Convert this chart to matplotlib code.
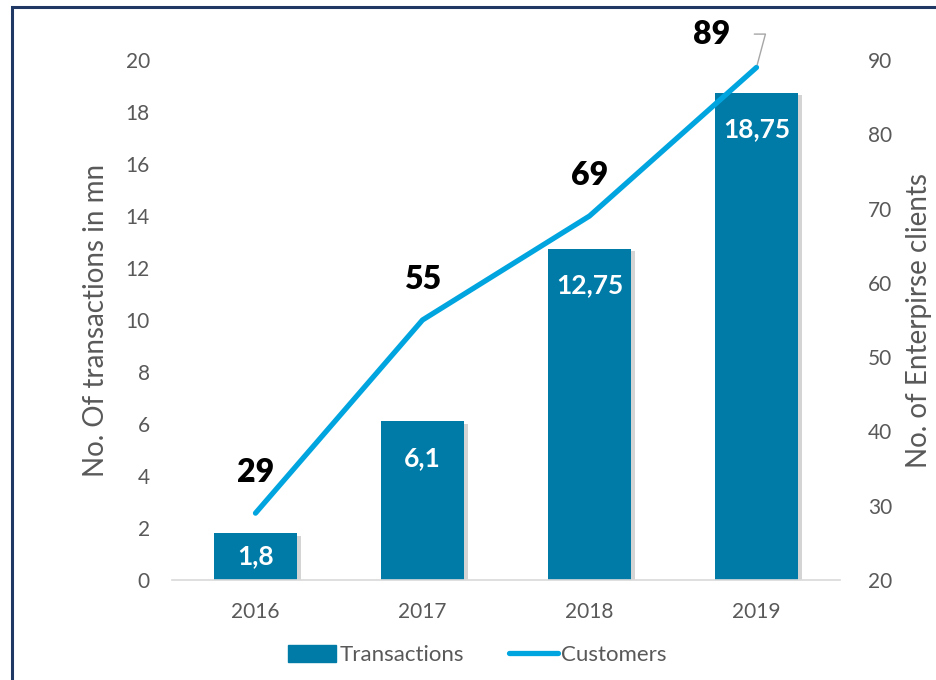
import matplotlib
matplotlib.use("Agg")
import matplotlib.pyplot as plt
import matplotlib.patheffects as pe
from matplotlib.patches import Rectangle
from matplotlib.lines import Line2D
from matplotlib.patches import Patch

# data
years = ["2016", "2017", "2018", "2019"]
transactions = [1.8, 6.1, 12.75, 18.75]
transaction_labels = ["1,8", "6,1", "12,75", "18,75"]
customers = [29, 55, 69, 89]

plt.rcParams['font.family'] = ['Lato', 'DejaVu Sans']

bar_color = '#007BA7'
line_color = '#00A5DF'
text_grey = '#595959'

fig = plt.figure(figsize=(9.37, 6.8), dpi=100)
ax = fig.add_axes([172 / 937, 100 / 680, 668 / 937, 520 / 680])
ax2 = ax.twinx()

x = list(range(len(years)))
bars = ax.bar(x, transactions, width=0.5, color=bar_color, zorder=2)
for b in bars:
    b.set_path_effects([pe.SimplePatchShadow(offset=(3, -2), alpha=0.25, shadow_rgbFace='#555555'),
                        pe.Normal()])

# bar labels, inside end (small bar centered)
for xi, h, lab in zip(x, transactions, transaction_labels):
    y = max(h / 2, h - 1.4)
    ax.text(xi, y, lab, ha='center', va='center', color='white',
            fontsize=19, fontweight='bold', zorder=5)

ax.set_xlim(-0.5, 3.5)
ax.set_ylim(0, 20)
ax.set_yticks(range(0, 21, 2))
ax.set_xticks(x)
ax.set_xticklabels(years)
ax.tick_params(axis='both', length=0, labelsize=15, labelcolor=text_grey, pad=16)
ax.tick_params(axis='y', pad=16)
for s in ['top', 'left', 'right']:
    ax.spines[s].set_visible(False)
ax.spines['bottom'].set_color('#D9D9D9')
ax.spines['bottom'].set_linewidth(1.2)
ax.set_ylabel("No. Of transactions in mn", fontsize=20, color=text_grey, labelpad=12)

ax2.plot(x, customers, color=line_color, linewidth=3.8, solid_capstyle='round', zorder=3)
ax2.set_ylim(20, 90)
ax2.set_yticks(range(20, 91, 10))
ax2.tick_params(axis='y', length=0, labelsize=15, labelcolor=text_grey, pad=20)
for s in ['top', 'left', 'right', 'bottom']:
    ax2.spines[s].set_visible(False)
ax2.set_ylabel("No. of Enterpirse clients", fontsize=20, color=text_grey, labelpad=10)

# line labels
for xi, v in zip(x[:-1], customers[:-1]):
    ax2.annotate(str(v), (xi, v), xytext=(0, 29), textcoords='offset points',
                 ha='center', va='center', fontsize=23, fontweight='heavy', color='black')
ax2.annotate(str(customers[-1]), (x[-1], customers[-1]), xytext=(-32, 24),
             textcoords='offset points', ha='center', va='center', fontsize=23,
             fontweight='heavy', color='black',
             arrowprops=dict(arrowstyle='-', color='#A6A6A6', lw=1,
                             shrinkA=15, shrinkB=2,
                             connectionstyle='angle,angleA=0,angleB=75,rad=0'))

ax.set_zorder(ax2.get_zorder() - 1)
ax.patch.set_visible(False)
ax2.patch.set_visible(False)

handles = [Patch(color=bar_color), Line2D([0], [0], color=line_color, lw=3.8, solid_capstyle='round')]
fig.legend(handles, ["Transactions", "Customers"], loc='center',
           bbox_to_anchor=(477 / 937, 1 - 655 / 680), ncol=2, frameon=False,
           fontsize=16, labelcolor=text_grey, handlelength=2.2, handleheight=0.8,
           handletextpad=0.15, columnspacing=2.0)

# dark blue frame around the chart
fig.patches.append(Rectangle((12 / 937, -0.1), 1.2, 1.1 - 7 / 680, transform=fig.transFigure,
                             fill=False, edgecolor='#203864', linewidth=2.2))

fig.savefig("out.png", dpi=100)
